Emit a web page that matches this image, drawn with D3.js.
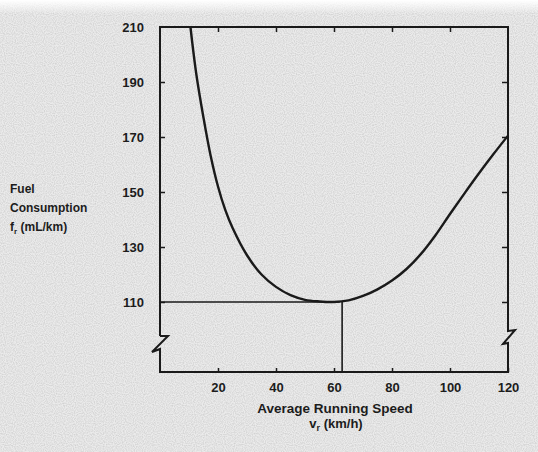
<!DOCTYPE html>
<html>
<head>
<meta charset="utf-8">
<script src="https://cdn.jsdelivr.net/npm/d3@7"></script>
<style>
  body { margin: 0; background: #fff; }
  svg text { font-family: "Liberation Sans", Arial, sans-serif; fill: #1c1c1c; }
</style>
</head>
<body>
<div id="chart"></div>
<script>
// speed (km/h) vs fuel consumption (mL/km)
var speeds = [10.5, 12.5, 15, 17.5, 20, 22.5, 25, 30, 35, 40, 45, 50, 55, 60, 65, 70, 75, 80, 85, 90, 95, 100, 105, 110, 115, 120];
var fuel   = [210, 193, 177, 163, 152, 143.5, 137, 127, 120, 115.5, 112.5, 110.8, 110.2, 110, 110.6, 112.2, 114.6, 117.8, 122, 127.5, 134.3, 142, 149.5, 156.8, 163.8, 170.5];
var xTicks = [20, 40, 60, 80, 100, 120];
var yTicks = [110, 130, 150, 170, 190, 210];
var optSpeed = 62;
var optFuel = 110;

var width = 538, height = 452;
var plotL = 160, plotR = 508, plotT = 27, plotB = 372;

var svg = d3.select("#chart").append("svg")
  .attr("width", width)
  .attr("height", height);

// paper background with a bit of scanner grain
var defs = svg.append("defs");
var f = defs.append("filter").attr("id", "grain");
f.append("feTurbulence").attr("type", "fractalNoise").attr("baseFrequency", 0.9).attr("numOctaves", 1).attr("seed", 3);
f.append("feColorMatrix").attr("type", "matrix")
  .attr("values", "0 0 0 0 0.45  0 0 0 0 0.45  0 0 0 0 0.45  0 0 0 -1.6 1.05");
var fade = defs.append("linearGradient").attr("id", "fade").attr("x1", 0).attr("y1", 0).attr("x2", 0).attr("y2", 1);
fade.append("stop").attr("offset", "0").attr("stop-color", "#fff").attr("stop-opacity", 1);
fade.append("stop").attr("offset", "1").attr("stop-color", "#fff").attr("stop-opacity", 0);

svg.append("rect").attr("width", width).attr("height", height).attr("fill", "#ebebeb");
svg.append("rect").attr("width", width).attr("height", height).attr("filter", "url(#grain)").attr("opacity", 0.6);
svg.append("rect").attr("width", width).attr("height", 14).attr("fill", "url(#fade)");

var x = d3.scaleLinear().domain([0, 120]).range([plotL, plotR]);
var y = d3.scaleLinear().domain([110, 210]).range([302, plotT]);

var ink = "#1a1a1a";

// axes (ticks drawn inward, domain lines replaced by the broken frame)
var gx = svg.append("g")
  .attr("transform", "translate(0," + plotB + ")")
  .call(d3.axisBottom(x).tickValues(xTicks).tickSize(-4).tickPadding(11));
gx.select(".domain").remove();
gx.selectAll("line").attr("stroke", ink).attr("stroke-width", 1.5);
gx.selectAll("text").style("font-size", "13px").style("font-weight", "bold").attr("fill", "#222");

var gy = svg.append("g")
  .attr("transform", "translate(" + plotL + ",0)")
  .call(d3.axisLeft(y).tickValues(yTicks).tickSize(-5).tickPadding(16));
gy.select(".domain").remove();
gy.selectAll("line").attr("stroke", ink).attr("stroke-width", 1.5);
gy.selectAll("text").style("font-size", "13px").style("font-weight", "bold").attr("fill", "#222");
gy.selectAll(".tick").filter(function(d) { return d === 210; }).select("line").remove();

var gt = svg.append("g")
  .attr("transform", "translate(0," + plotT + ")")
  .call(d3.axisTop(x).tickValues([20, 40, 60, 80, 100]).tickSize(-5).tickFormat(""));
gt.select(".domain").remove();
gt.selectAll("line").attr("stroke", ink).attr("stroke-width", 1.5);

var gr = svg.append("g")
  .attr("transform", "translate(" + plotR + ",0)")
  .call(d3.axisRight(y).tickValues([110, 130, 150, 170, 190]).tickSize(-6).tickFormat(""));
gr.select(".domain").remove();
gr.selectAll("line").attr("stroke", ink).attr("stroke-width", 1.5);

// frame with the axis breaks
var brk = 336;
var frame = d3.path();
frame.moveTo(plotL, brk);
frame.lineTo(plotL, plotT);
frame.lineTo(plotR, plotT);
frame.lineTo(plotR, brk - 5);
frame.lineTo(plotR + 7, brk - 6);
frame.lineTo(plotR - 5, brk + 8);
frame.lineTo(plotR, brk + 7);
frame.lineTo(plotR, plotB);
frame.lineTo(plotL, plotB);
frame.lineTo(plotL, brk + 13);
frame.lineTo(plotL - 8, brk + 16);
frame.lineTo(plotL + 8, brk);
frame.lineTo(plotL, brk);
svg.append("path")
  .attr("d", frame.toString())
  .attr("fill", "none")
  .attr("stroke", ink)
  .attr("stroke-width", 2)
  .attr("stroke-linejoin", "miter");

// optimum speed guide lines
svg.append("line")
  .attr("x1", x(0)).attr("x2", x(optSpeed))
  .attr("y1", y(optFuel)).attr("y2", y(optFuel))
  .attr("stroke", ink).attr("stroke-width", 1.6);
svg.append("line")
  .attr("x1", x(optSpeed + 0.8)).attr("x2", x(optSpeed + 0.8))
  .attr("y1", y(optFuel)).attr("y2", plotB)
  .attr("stroke", ink).attr("stroke-width", 1.6);

// fuel consumption curve
var pts = speeds.map(function(s, i) { return [s, fuel[i]]; });
var line = d3.line()
  .x(function(d) { return x(d[0]); })
  .y(function(d) { return y(d[1]); })
  .curve(d3.curveCatmullRom.alpha(0.5));
svg.append("path")
  .datum(pts)
  .attr("d", line)
  .attr("fill", "none")
  .attr("stroke", ink)
  .attr("stroke-width", 2.4);

// axis titles
svg.append("text")
  .attr("x", 335).attr("y", 413)
  .attr("text-anchor", "middle")
  .style("font-size", "13.5px").style("font-weight", "bold")
  .text("Average Running Speed");
var xs = svg.append("text")
  .attr("x", 336).attr("y", 428)
  .attr("text-anchor", "middle")
  .style("font-size", "13px").style("font-weight", "bold");
xs.append("tspan").text("v");
xs.append("tspan").attr("dy", 3).style("font-size", "9px").text("r");
xs.append("tspan").attr("dy", -3).text(" (km/h)");

var yl = svg.append("text")
  .style("font-size", "12px").style("font-weight", "bold");
yl.append("tspan").attr("x", 10).attr("y", 193).text("Fuel");
yl.append("tspan").attr("x", 10).attr("y", 212).text("Consumption");
var yl3 = svg.append("text")
  .attr("x", 10).attr("y", 231)
  .style("font-size", "12px").style("font-weight", "bold");
yl3.append("tspan").text("f");
yl3.append("tspan").attr("dy", 3).style("font-size", "8px").text("r");
yl3.append("tspan").attr("dy", -3).text(" (mL/km)");
</script>
</body>
</html>
